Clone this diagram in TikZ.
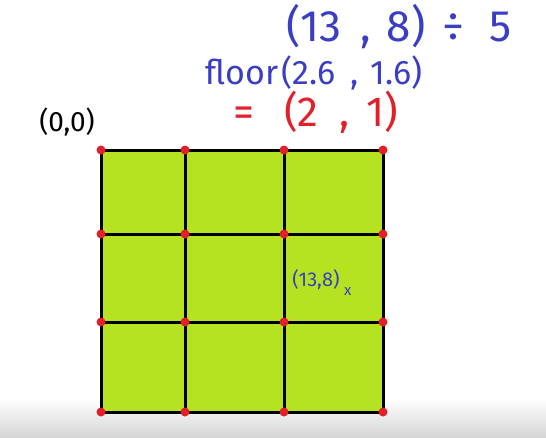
\documentclass[tikz,border=0pt]{standalone}
\usepackage{fontspec}
\setmainfont{Fira Sans}
\usetikzlibrary{positioning}
\definecolor{cellgreen}{RGB}{181,227,34}
\definecolor{penblue}{RGB}{58,62,196}
\definecolor{penred}{RGB}{226,32,42}

\begin{document}
\begin{tikzpicture}[x=1pt,y=-1pt,
    gridline/.style={line width=3pt, black},
    corner/.style={circle, fill=penred, inner sep=0pt, minimum size=9pt}]
    \useasboundingbox (0,0) rectangle (546,437);
    % Screen edge
    \shade[top color=white, bottom color=black!16] (0,398) rectangle (546,437);

    % Cells
    \fill[cellgreen] (101,150) rectangle (383,412);

    % Grid lines
    \foreach \gx in {101,185,284,383}
        \draw[gridline] (\gx,150) -- (\gx,412);
    \foreach \gy in {150,234,322,412}
        \draw[gridline] (101,\gy) -- (383,\gy);

    % Corner dots
    \foreach \gx in {101,185,284,383}
        \foreach \gy in {150,234,322,412}
            \node[corner] (dot-\gx-\gy) at (\gx,\gy) {};

    % Labels
    \node[black, font=\fontsize{28}{30}\selectfont] (origin) at (67,122) {(0,0)};
    \node[penblue, font=\fontsize{20}{22}\selectfont] (point) at (316,280) {(13,8)};
    \node[penblue, font=\fontsize{15}{17}\selectfont, anchor=west, inner sep=0pt] (mark) at ([xshift=1pt,yshift=2pt]point.south east) {x};

    % Working
    \node[penblue, font=\fontsize{44}{48}\selectfont] (divide) at (399,27)
        {(13\hspace{0.45em},\hspace{0.35em}8)\hspace{0.4em}÷\hspace{0.55em}5};
    \node[penblue, font=\fontsize{34}{38}\selectfont] (floor) at (314,73)
        {floor\hspace{0.1em}(2.6\hspace{0.45em},\hspace{0.35em}1.6)};
    \node[penred, font=\fontsize{42}{46}\selectfont] (result) at (316,112)
        {=\hspace{0.7em}(2\hspace{0.5em},\hspace{0.4em}1)};
\end{tikzpicture}
\end{document}
